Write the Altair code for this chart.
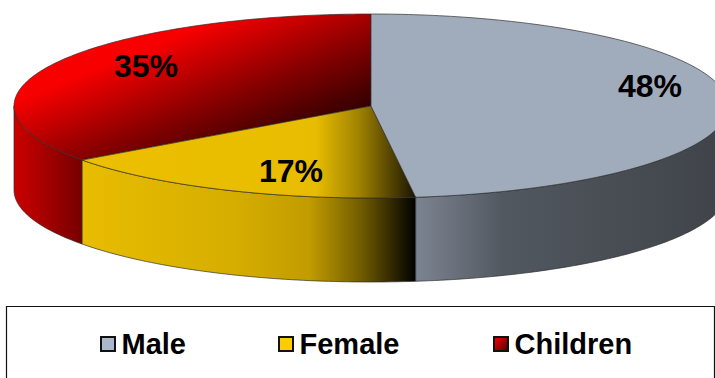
import math
import altair as alt

# Slices, clockwise from twelve o'clock
categories = ["Male", "Female", "Children"]
shares = [48, 17, 35]

W, H = 715, 378
CX, CY, RX, RY, DEPTH = 371, 106, 357, 92, 84
ARC_STEP = 1.0


def point(deg, drop=0.0):
    a = math.radians(deg)
    return [CX + RX * math.sin(a), CY - RY * math.cos(a) + drop]


def sweep(a, b):
    n = max(2, int(abs(b - a) / ARC_STEP))
    return [a + (b - a) * i / n for i in range(n + 1)]


def feature(ring):
    ring = ring + [ring[0]]
    return {"type": "Feature", "properties": {},
            "geometry": {"type": "Polygon", "coordinates": [ring]}}


def top_face(a, b):
    return feature([[CX, CY]] + [point(t) for t in sweep(a, b)])


def wall(a, b):
    upper = [point(t) for t in sweep(a, b)]
    lower = [point(t, DEPTH) for t in sweep(b, a)]
    return feature(upper + lower)


def gradient(stops, x1=0, y1=0, x2=1, y2=0):
    return {"gradient": "linear", "x1": x1, "y1": y1, "x2": x2, "y2": y2,
            "stops": [{"offset": o, "color": c} for o, c in stops]}


EDGE = "#2b2b2b"
projection = alt.Projection(type="identity", scale=1, translate=[0, 0])


def shape(feat, fill):
    return alt.Chart(alt.Data(values=[feat])).mark_geoshape(
        fill=fill, stroke=EDGE, strokeWidth=0.8, strokeOpacity=0.85, clip=True
    ).project(**projection.to_dict())


# Slice boundaries in degrees
edges = [0]
for s in shares:
    edges.append(edges[-1] + s * 3.6)
male_a, male_b = edges[0], edges[1]
female_a, female_b = edges[1], edges[2]
child_a, child_b = edges[2], edges[3]

fills_top = {
    "Male": "#a0abbc",
    "Female": gradient([(0, "#ecc000"), (0.70, "#e8bc00"), (0.83, "#a08200"),
                        (1, "#1a1400")]),
    "Children": gradient([(0, "#ff0000"), (0.30, "#f80000"), (0.42, "#c80000"),
                          (0.60, "#800000"), (0.80, "#380000"), (1, "#240000")],
                         x1=0, y1=0, x2=1, y2=1),
}
fills_wall = {
    "Male": gradient([(0, "#7c8491"), (0.28, "#525860"), (1, "#3f4349")]),
    "Female": gradient([(0, "#e8bc00"), (0.45, "#d6ae00"), (0.68, "#c29c00"),
                        (0.84, "#6f5a00"), (1, "#000000")]),
    "Children": gradient([(0, "#cc0000"), (1, "#760000")]),
}

layers = [
    shape(wall(child_a, 270), fills_wall["Children"]),
    shape(wall(female_a, female_b), fills_wall["Female"]),
    shape(wall(90, male_b), fills_wall["Male"]),
    shape(top_face(child_a, child_b), fills_top["Children"]),
    shape(top_face(female_a, female_b), fills_top["Female"]),
    shape(top_face(male_a, male_b), fills_top["Male"]),
]

# Percentage labels
label_pos = {"Male": (650, 87), "Female": (291, 172), "Children": (146, 67)}
for name, s in zip(categories, shares):
    x, y = label_pos[name]
    layers.append(
        alt.Chart(alt.Data(values=[{"label": f"{s}%"}])).mark_text(
            font="Liberation Sans", fontWeight="bold", fontSize=32,
            color="#000000", baseline="middle", align="center",
        ).encode(text="label:N", x=alt.value(x), y=alt.value(y))
    )

# Legend frame
layers.append(
    alt.Chart(alt.Data(values=[{"a": 1}])).mark_rect(
        fill="#ffffff", stroke="#111111", strokeWidth=1.2, clip=True
    ).encode(x=alt.value(6.5), x2=alt.value(714.5),
             y=alt.value(306.5), y2=alt.value(390))
)

# Legend entries
key_fills = {
    "Male": "#aab6ca",
    "Female": "#ffcc00",
    "Children": gradient([(0, "#ff0000"), (1, "#500000")], x1=0, y1=0, x2=1, y2=1),
}
key_left = {"Male": 101, "Female": 279, "Children": 494}
for name in categories:
    left = key_left[name]
    layers.append(
        alt.Chart(alt.Data(values=[{"a": 1}])).mark_rect(
            fill=key_fills[name], stroke="#111111", strokeWidth=2
        ).encode(x=alt.value(left), x2=alt.value(left + 14),
                 y=alt.value(337), y2=alt.value(351))
    )
    layers.append(
        alt.Chart(alt.Data(values=[{"label": name}])).mark_text(
            font="Liberation Sans", fontWeight="bold", fontSize=29,
            color="#000000", align="left", baseline="middle",
        ).encode(text="label:N", x=alt.value(left + 20.5), y=alt.value(345))
    )

chart = alt.layer(*layers).properties(
    width=W, height=H, padding=0, autosize=alt.AutoSizeParams(type="none"),
    background="#ffffff",
).configure_view(stroke=None)

chart.save("out.html", embed_options={"renderer": "svg", "actions": False})
